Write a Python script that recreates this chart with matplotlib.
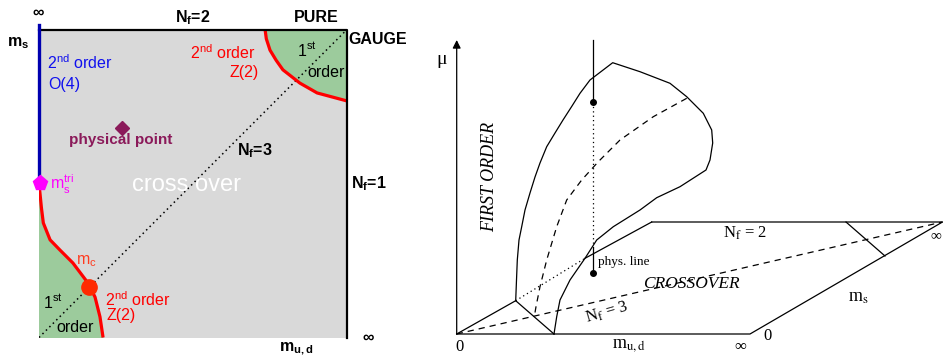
import numpy as np
import matplotlib as mpl
mpl.use('AGG')
import matplotlib.pyplot as plt

mpl.rc('font', **{'family': ['Liberation Sans', 'DejaVu Sans'], 'size': 11})
mpl.rc('mathtext', fontset='custom', rm='Liberation Sans', bf='Liberation Sans:bold',
       it='Liberation Sans:italic')

# ---------------- left panel (Columbia plot), box units 0..1 ----------------
low_x = [0.0, 0.003, 0.008, 0.014, 0.036, 0.068, 0.110, 0.159, 0.182, 0.198, 0.208]
low_y = [0.498, 0.470, 0.420, 0.372, 0.317, 0.284, 0.242, 0.177, 0.131, 0.067, 0.0]
top_x = [0.734, 0.738, 0.750, 0.770, 0.792, 0.847, 0.903, 1.0]
top_y = [1.0, 0.970, 0.933, 0.900, 0.869, 0.826, 0.794, 0.768]
tri_pt = (0.003, 0.502)
mc_pt = (0.162, 0.164)
phys_pt = (0.269, 0.680)

# ---------------- right panel (3d sketch), picture pixel coords ----------------
surf_x = [515.7, 516.5, 517.3, 519.0, 521.7, 525.0, 530.0, 535.0, 540.0, 546.7, 555.0,
          563.0, 572.0, 580.0, 590.0, 612.7, 640.0, 670.0, 686.7, 703.3, 711.7, 712.7,
          710.0, 706.0, 680.0, 656.7, 640.0, 613.3, 596.7, 585.0, 570.0, 560.0, 556.7, 554.0]
surf_y = [300.7, 280.0, 260.0, 240.0, 226.7, 210.0, 193.0, 177.0, 163.0, 146.7, 133.0,
          120.0, 106.0, 93.3, 80.0, 62.7, 71.7, 83.3, 96.7, 113.3, 130.0, 143.0,
          160.0, 170.0, 186.7, 197.7, 210.0, 226.7, 240.0, 258.3, 280.0, 300.0, 316.7, 334.0]
tric_x = [686.7, 653.3, 620.0, 598.3, 581.7, 566.7, 556.7, 546.7, 540.0, 536.0, 534.3]
tric_y = [98.3, 116.7, 140.0, 161.7, 180.0, 200.0, 226.7, 260.0, 286.7, 306.7, 316.7]
origin = (456.7, 334.0)
mud_inf = (750.0, 334.0)
ms_inf = (942.5, 222.0)
back_left = (651.7, 222.0)
fo_corner = (515.7, 300.7)
fo_base = (554.0, 334.0)
phys_cross = (585.0, 258.3)
nf2_top = (846.0, 222.0)
nf2_bot = (885.0, 256.0)
phys_x = 593.3
phys_y = [40.0, 102.3, 248.0, 272.7]
mu_top = 40.0

fig = plt.figure(figsize=(9.43, 3.6), dpi=100)

# ======== left ========
ax = fig.add_axes([39/943, 22.5/360, 308/943, 308/360])
ax.set_xlim(0, 1)
ax.set_ylim(0, 1)
ax.axis('off')
ax.fill([0, 1, 1, 0], [0, 0, 1, 1], color='#d9d9d9', zorder=0)
ax.fill(low_x + [0.0], low_y + [0.0], color='#9ccb9c', zorder=1)
ax.fill(top_x + [1.0], top_y + [1.0], color='#9ccb9c', zorder=1)
ax.plot([0, 1], [0, 1], color='k', ls=(0, (1, 2.2)), lw=1.1, zorder=2)
ax.plot(low_x, low_y, color='#ff0000', lw=2.3, zorder=3, solid_capstyle='butt')
ax.plot(top_x, top_y, color='#ff0000', lw=2.3, zorder=3, solid_capstyle='butt')
# box
ax.plot([0, 1, 1], [1, 1, 0], color='k', lw=1.6, zorder=4, clip_on=False)
ax.annotate('', xy=(1.045, 0), xytext=(-0.004, 0), zorder=4,
            arrowprops=dict(arrowstyle='-|>', color='k', lw=1.8, mutation_scale=10,
                            shrinkA=0, shrinkB=0))
ax.annotate('', xy=(0, 1.025), xytext=(0, -0.004), zorder=4,
            arrowprops=dict(arrowstyle='-|>', color='k', lw=1.8, mutation_scale=10,
                            shrinkA=0, shrinkB=0))
ax.plot([0, 0], [tri_pt[1], 1.015], color='#0000b0', lw=2.4, zorder=5, clip_on=False)
ax.plot(*tri_pt, marker='p', ms=11, color='#ff00ff', zorder=6, clip_on=False)
ax.plot(*mc_pt, marker='o', ms=11, color='#ff2a00', zorder=6)
ax.plot(*phys_pt, marker='D', ms=7.5, color='#8b1a5a', zorder=6)

blk = dict(color='k', fontweight='bold', fontsize=11.5, va='center', clip_on=False)
ax.text(-0.003, 1.055, '∞', ha='center', **blk)
ax.text(-0.068, 0.955, r'm$_\mathbf{s}$', ha='center', **blk)
ax.text(0.5, 1.04, r'N$_\mathbf{f}$=2', ha='center', **blk)
ax.text(0.9, 1.04, 'PURE', ha='center', **blk)
ax.text(1.003, 0.966, 'GAUGE', ha='left', **blk)
ax.text(1.013, 0.5, r'N$_\mathbf{f}$=1', ha='left', **blk)
ax.text(0.643, 0.607, r'N$_\mathbf{f}$=3', ha='left', zorder=7, **blk)
ax.text(1.05, 0.0, '∞', ha='left', **blk)
ax.text(0.834, -0.036, r'm$_\mathbf{u,d}$', ha='center', **blk)

reg = dict(fontsize=11.5, va='center', ha='left', zorder=7)
ax.text(0.026, 0.893, r'2$^\mathrm{nd}$ order', color='#1010ee', **reg)
ax.text(0.029, 0.82, 'O(4)', color='#1010ee', **reg)
ax.text(0.49, 0.926, r'2$^\mathrm{nd}$ order', color='#ff0000', **reg)
ax.text(0.617, 0.859, 'Z(2)', color='#ff0000', **reg)
ax.text(0.214, 0.124, r'2$^\mathrm{nd}$ order', color='#ff0000', **reg)
ax.text(0.218, 0.07, 'Z(2)', color='#ff0000', **reg)
ax.text(0.838, 0.935, r'1$^\mathrm{st}$', color='k', **reg)
ax.text(0.872, 0.859, 'order', color='k', **reg)
ax.text(0.013, 0.114, r'1$^\mathrm{st}$', color='k', **reg)
ax.text(0.055, 0.034, 'order', color='k', **reg)
ax.text(0.036, 0.497, r'm$_\mathrm{s}^\mathrm{tri}$', color='#ff00ff', **reg)
ax.text(0.12, 0.247, r'm$_\mathrm{c}$', color='#ff3b1f', **reg)
ax.text(0.266, 0.641, 'physical point', color='#8b1a5a', fontsize=11,
        fontweight='bold', ha='center', va='center', zorder=7)
ax.text(0.48, 0.495, 'cross over', color='white', fontsize=17, ha='center',
        va='center', zorder=7)

# ======== right ========
bx = fig.add_axes([430/943, 0, 513/943, 1])
bx.set_xlim(430, 943)
bx.set_ylim(360, 0)
bx.axis('off')
lw = 0.9
ln = dict(color='k', lw=lw)
bx.plot(surf_x, surf_y, **ln)
bx.plot(tric_x, tric_y, color='k', lw=lw, ls=(0, (5, 4)))
bx.plot([origin[0], mud_inf[0], ms_inf[0], back_left[0]],
        [origin[1], mud_inf[1], ms_inf[1], back_left[1]], **ln)
bx.plot([origin[0], fo_corner[0], fo_base[0]], [origin[1], fo_corner[1], fo_base[1]], **ln)
bx.plot([fo_corner[0], phys_cross[0]], [fo_corner[1], phys_cross[1]], color='k',
        lw=lw, ls=(0, (1, 2.5)))
bx.plot([phys_cross[0], back_left[0]], [phys_cross[1], back_left[1]], **ln)
bx.plot([nf2_top[0], nf2_bot[0]], [nf2_top[1], nf2_bot[1]], **ln)
bx.plot([origin[0], ms_inf[0]], [origin[1], ms_inf[1]], color='k', lw=lw, ls=(0, (5, 4)))
# physical line
bx.plot([phys_x, phys_x], phys_y[0:2], **ln)
bx.plot([phys_x, phys_x], phys_y[1:3], color='k', lw=lw, ls=(0, (1, 2.5)))
bx.plot([phys_x, phys_x], phys_y[2:4], **ln)
bx.plot([phys_x, phys_x], [phys_y[1], phys_y[3]], 'ko', ms=4, ls='none')
# mu axis
bx.annotate('', xy=(origin[0], mu_top), xytext=origin,
            arrowprops=dict(arrowstyle='-|>', color='k', lw=lw, mutation_scale=12,
                            shrinkA=0, shrinkB=0))

ser = dict(family=['Liberation Serif', 'DejaVu Serif'], math_fontfamily='stix',
           color='k', va='center')
bx.text(441.7, 60, 'μ', fontsize=14, ha='center', **ser)
bx.text(490, 177, 'FIRST ORDER', fontsize=13, style='italic', rotation=90,
        ha='center', **ser)
bx.text(723, 233, r'N$_\mathrm{f}$ = 2', fontsize=12, ha='left', **ser)
bx.text(598, 262, 'phys. line', fontsize=9.5, ha='left', **ser)
bx.text(643, 284, 'CROSSOVER', fontsize=12.5, style='italic', ha='left', **ser)
bx.text(848, 298, r'm$_\mathrm{s}$', fontsize=13, ha='left', **ser)
bx.text(606.7, 313, r'N$_\mathrm{f}$ = 3', fontsize=12, ha='center', rotation=16,
        rotation_mode='anchor', **ser)
bx.text(459, 347, '0', fontsize=12, ha='center', **ser)
bx.text(629, 346, r'm$_\mathrm{u,d}$', fontsize=13, ha='center', **ser)
bx.text(740, 347, '∞', fontsize=12, ha='center', **ser)
bx.text(767.7, 336, '0', fontsize=12, ha='center', **ser)
bx.text(941, 236, '∞', fontsize=11, ha='right', **ser)

plt.savefig('out.png', dpi=100)
